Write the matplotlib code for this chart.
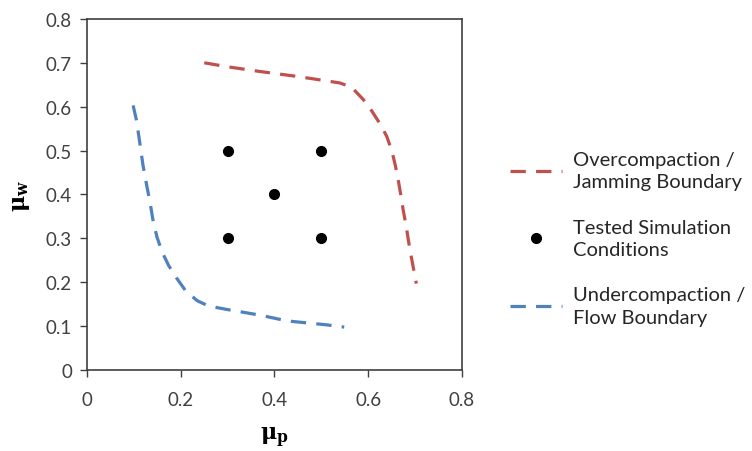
import matplotlib
matplotlib.use("Agg")
import matplotlib.pyplot as plt

plt.rcParams['font.family'] = ['Lato', 'DejaVu Sans']
plt.rcParams['mathtext.fontset'] = 'custom'
plt.rcParams['mathtext.rm'] = 'DejaVu Serif:bold'

# jamming boundary (red)
jam_x = [0.25, 0.299, 0.37, 0.441, 0.498, 0.540, 0.565, 0.590, 0.608, 0.626, 0.640,
         0.651, 0.658, 0.665, 0.670, 0.675, 0.681, 0.686, 0.691, 0.697, 0.703]
jam_y = [0.70, 0.691, 0.68, 0.670, 0.661, 0.654, 0.644, 0.616, 0.590, 0.560, 0.532,
         0.498, 0.467, 0.429, 0.398, 0.364, 0.330, 0.296, 0.265, 0.231, 0.197]

# flow boundary (blue)
flow_x = [0.098, 0.105, 0.112, 0.119, 0.127, 0.134, 0.141, 0.149, 0.160, 0.174, 0.192,
          0.210, 0.235, 0.259, 0.299, 0.37, 0.427, 0.512, 0.549]
flow_y = [0.603, 0.570, 0.520, 0.467, 0.421, 0.383, 0.338, 0.303, 0.269, 0.238, 0.208,
          0.181, 0.158, 0.146, 0.138, 0.125, 0.112, 0.103, 0.098]

# tested points
test_x = [0.3, 0.5, 0.4, 0.3, 0.5]
test_y = [0.5, 0.5, 0.4, 0.3, 0.3]

fig = plt.figure(figsize=(7.52, 4.52), dpi=100)
ax = fig.add_axes([0.116, 0.179, 0.498, 0.777])

ax.plot(jam_x, jam_y, color='#C0504D', lw=2.3, dashes=(4.8, 3.2),
        label='Overcompaction /\nJamming Boundary')
ax.plot(test_x, test_y, 'o', color='black', ms=7, label='Tested Simulation\nConditions')
ax.plot(flow_x, flow_y, color='#4F81BD', lw=2.3, dashes=(4.8, 3.2),
        label='Undercompaction /\nFlow Boundary')

ax.set_xlim(0, 0.8)
ax.set_ylim(0, 0.8)
ax.set_xticks([0, 0.2, 0.4, 0.6, 0.8])
ax.set_yticks([0, 0.1, 0.2, 0.3, 0.4, 0.5, 0.6, 0.7, 0.8])
ax.set_xticklabels(['0', '0.2', '0.4', '0.6', '0.8'])
ax.set_yticklabels(['0', '0.1', '0.2', '0.3', '0.4', '0.5', '0.6', '0.7', '0.8'])
ax.tick_params(labelsize=13.5, colors='#404040', length=5, width=1, pad=6)
ax.tick_params(axis='x', pad=10)
for s in ax.spines.values():
    s.set_color('#404040')
    s.set_linewidth(1.2)

ax.set_xlabel(r'$\mathrm{μ}_\mathrm{p}$', fontsize=16, labelpad=12)
ax.set_ylabel(r'$\mathrm{μ}_\mathrm{w}$', fontsize=16, labelpad=10)

leg = ax.legend(loc='center left', bbox_to_anchor=(1.08, 0.375), frameon=False,
                fontsize=14.5, handlelength=2.6, labelspacing=1.4, handletextpad=0.55,
                labelcolor='#262626')
for t in leg.get_texts():
    t.set_linespacing(1.4)

fig.savefig('out.png', dpi=100)
